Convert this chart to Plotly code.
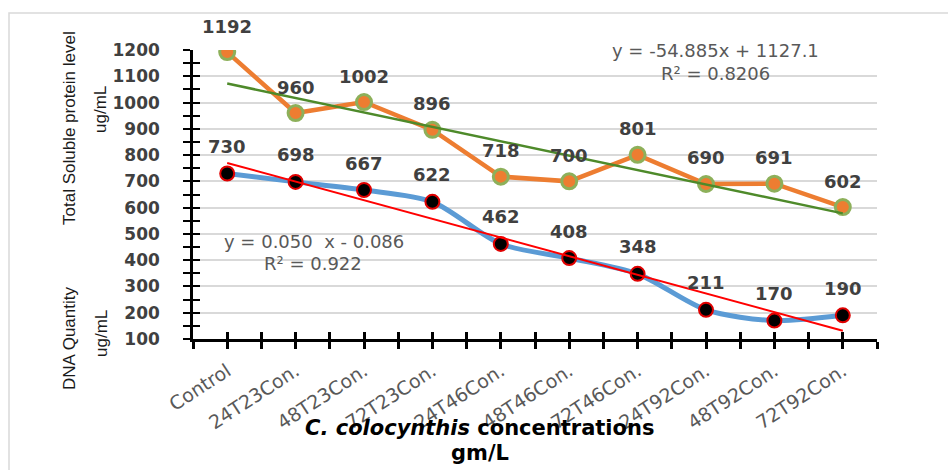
import numpy as np
import plotly.graph_objects as go

categories = ["Control", "24T23Con.", "48T23Con.", "72T23Con.", "24T46Con.",
              "48T46Con.", "72T46Con.", "24T92Con.", "48T92Con.", "72T92Con."]
protein = [1192, 960, 1002, 896, 718, 700, 801, 690, 691, 602]
dna = [730, 698, 667, 622, 462, 408, 348, 211, 170, 190]
y_ticks = [100, 200, 300, 400, 500, 600, 700, 800, 900, 1000, 1100, 1200]

W, H = 948, 470
L, R, T, B = 193, 877, 50, 339

xi = list(range(len(categories)))
xs = np.arange(1, len(categories) + 1)
p_fit = np.polyfit(xs, protein, 1)
d_fit = np.polyfit(xs, dna, 1)
p_trend = list(np.polyval(p_fit, xs))
d_trend = list(np.polyval(d_fit, xs))

fig = go.Figure()

fig.add_trace(go.Scatter(
    x=xi, y=protein, mode="lines+markers",
    line=dict(color="#ED7D31", width=4.5),
    marker=dict(size=15, color="#ED7D31", line=dict(color="#8DB05A", width=3)),
    hoverinfo="skip", showlegend=False))
fig.add_trace(go.Scatter(
    x=xi, y=dna, mode="lines+markers",
    line=dict(color="#5B9BD5", width=5, shape="spline", smoothing=0.8),
    marker=dict(size=14, color="#000000", line=dict(color="#E00000", width=2)),
    hoverinfo="skip", showlegend=False))
fig.add_trace(go.Scatter(
    x=xi, y=p_trend, mode="lines",
    line=dict(color="#4E8A2A", width=2.5),
    hoverinfo="skip", showlegend=False))
fig.add_trace(go.Scatter(
    x=xi, y=d_trend, mode="lines",
    line=dict(color="#FF0000", width=2),
    hoverinfo="skip", showlegend=False))
# invisible trace to activate overlay axes (crossing ticks)
fig.add_trace(go.Scatter(
    x=xi, y=protein, mode="markers", marker=dict(opacity=0),
    xaxis="x2", yaxis="y2", hoverinfo="skip", showlegend=False))

label_font = dict(family="DejaVu Sans", size=18, color="#404040", weight="bold")
annotations = []
for i, v in enumerate(protein):
    annotations.append(dict(x=i, y=v, xref="x", yref="y", text=str(v), showarrow=False,
                            xanchor="center", yanchor="middle",
                            yshift=26, font=label_font))
for i, v in enumerate(dna):
    annotations.append(dict(x=i, y=v, xref="x", yref="y", text=str(v), showarrow=False,
                            xanchor="center", yanchor="middle",
                            yshift=27, font=label_font))


def px_x(px):
    return (px - L) / (R - L)


def px_y(py):
    return (B - py) / (B - T)


def note(px, py, text, font, angle=0):
    return dict(x=px_x(px), y=px_y(py), xref="paper", yref="paper", showarrow=False,
                xanchor="center", yanchor="middle", text=text, font=font,
                textangle=angle)


eq_font = dict(family="DejaVu Sans", size=18, color="#595959")
annotations += [
    note(715, 50, "y = -54.885x + 1127.1", eq_font),
    note(715, 73, "R² = 0.8206", eq_font),
    note(314, 241, "y = 0.050\u00a0 x - 0.086", eq_font),
    note(313, 263, "R² = 0.922", eq_font),
]

title_font = dict(family="Liberation Sans Narrow, Liberation Sans, sans-serif", size=17,
                  color="#1A1A1A")
annotations += [
    note(69, 128, "Total Soluble protein level", title_font, -90),
    note(101, 110, "ug/mL", title_font, -90),
    note(69, 339, "DNA Quantity", title_font, -90),
    note(101, 334, "ug/mL", title_font, -90),
]

xt_font = dict(family="DejaVu Sans", size=21, color="#000000", weight="bold")
annotations += [
    note(479, 428, "<i>C. colocynthis</i> concentrations", xt_font),
    note(480, 453, "gm/L", xt_font),
]

axis_common_x = dict(range=[-0.5, len(categories) - 0.5], tickmode="array", tickvals=xi,
                     zeroline=False, showgrid=False)
axis_common_y = dict(range=[100, 1200], tickmode="array", tickvals=y_ticks,
                     zeroline=False)

fig.update_layout(
    width=W, height=H,
    margin=dict(l=L, r=W - R, t=T, b=H - B),
    paper_bgcolor="white", plot_bgcolor="white",
    showlegend=False,
    xaxis=dict(**axis_common_x, ticktext=categories, tickangle=-33,
               tickfont=dict(family="DejaVu Sans", size=19, color="#595959"),
               showline=True, linecolor="#000000", linewidth=2.5,
               ticks="outside", ticklen=7, tickwidth=2.5, tickcolor="#000000",
               ticklabelstandoff=4,
               minor=dict(tickmode="linear", tick0=-0.5, dtick=1, ticks="outside",
                          ticklen=7, tickwidth=2.5, tickcolor="#000000", showgrid=False)),
    yaxis=dict(**axis_common_y,
               tickfont=dict(family="DejaVu Sans", size=17, color="#404040", weight="bold"),
               showline=True, linecolor="#000000", linewidth=2.5,
               showgrid=True, gridcolor="#D9D9D9", gridwidth=2,
               ticks="outside", ticklen=7, tickwidth=2, tickcolor="#000000",
               ticklabelstandoff=20,
               minor=dict(tickmode="linear", tick0=50, dtick=100, ticks="outside",
                          ticklen=7, tickwidth=2, tickcolor="#000000", showgrid=False)),
    xaxis2=dict(**axis_common_x, overlaying="x", anchor="y2", side="bottom",
                showticklabels=False, showline=False,
                ticks="inside", ticklen=7, tickwidth=2.5, tickcolor="#000000",
                minor=dict(tickmode="linear", tick0=-0.5, dtick=1, ticks="inside",
                           ticklen=7, tickwidth=2.5, tickcolor="#000000", showgrid=False)),
    yaxis2=dict(**axis_common_y, overlaying="y", anchor="x2", side="left",
                showticklabels=False, showline=False, showgrid=False,
                ticks="inside", ticklen=7, tickwidth=2, tickcolor="#000000",
                minor=dict(tickmode="linear", tick0=50, dtick=100, ticks="inside",
                           ticklen=7, tickwidth=2, tickcolor="#000000", showgrid=False)),
    annotations=annotations,
    shapes=[dict(type="rect", xref="paper", yref="paper",
                 x0=px_x(9), x1=px_x(960), y0=px_y(485), y1=px_y(13),
                 line=dict(color="#D9D9D9", width=1.5), fillcolor="rgba(0,0,0,0)",
                 layer="below")],
)

fig.write_html("out.html", config={"displayModeBar": False},
               post_script="document.body.style.margin='0px';")
